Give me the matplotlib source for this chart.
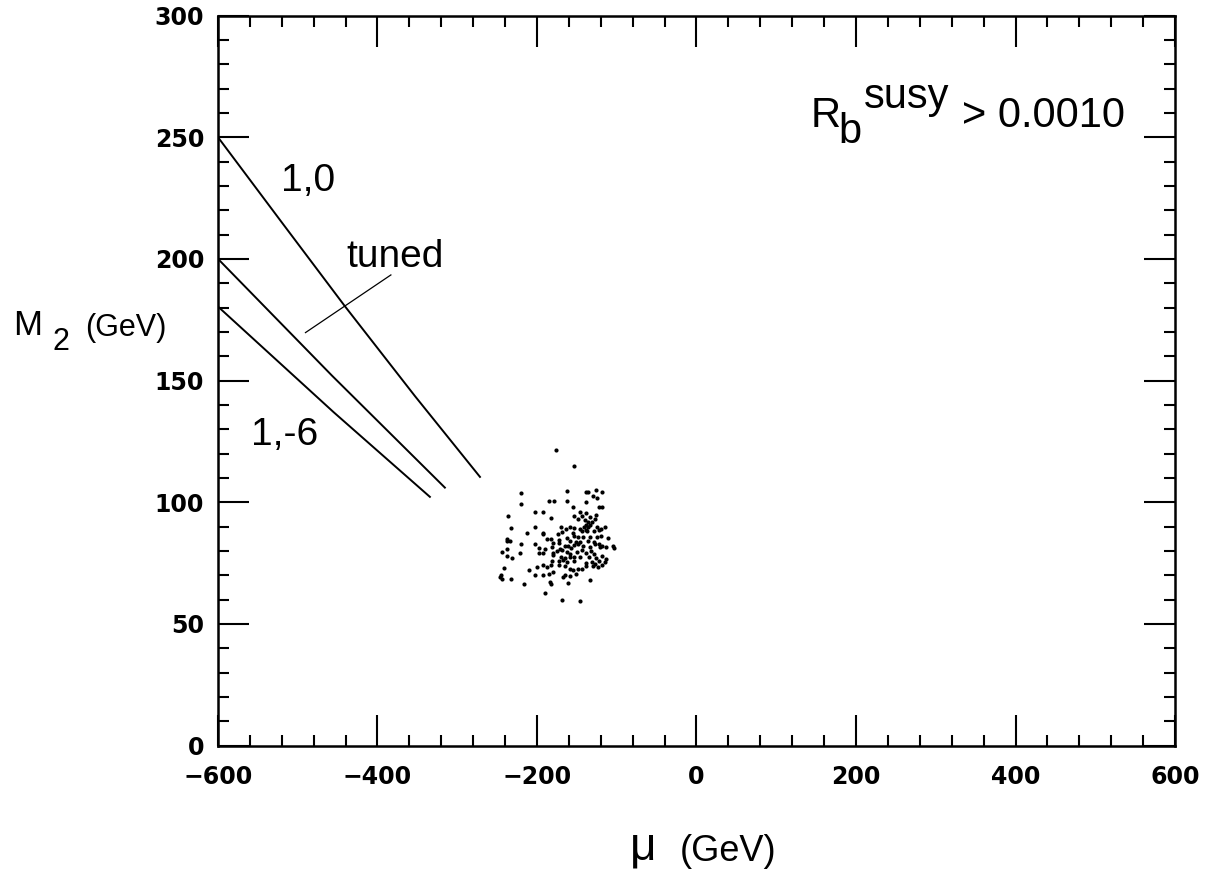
import matplotlib
matplotlib.use('Agg')
from matplotlib import pyplot
import matplotlib.ticker as ticker

# contour lines (mu, M2) in GeV
mu_10 = [-600, -520, -441, -353, -271.5]
m2_10 = [250, 215.0, 180.6, 143.6, 110.4]
mu_tuned = [-600, -457, -315.5]
m2_tuned = [200, 152.0, 106.0]
mu_16 = [-600, -455, -334.3]
m2_16 = [180.4, 137.0, 102.2]
# pointer from "tuned" label
mu_ptr = [-490.3, -383.2]
m2_ptr = [169.7, 193.4]

# scan points with Rb^susy > 0.0010
mu_pts = [-176, -154, -220, -163, -138, -136, -126, -118, -130, -125,
          -220, -185, -179, -163, -139, -155, -122, -119, -203, -193,
          -146, -138, -143, -133, -126, -183, -236, -153, -127, -148,
          -140, -136, -131, -139, -133, -136, -141, -232, -203, -170,
          -164, -158, -153, -146, -138, -125, -115, -122, -120, -212,
          -192, -192, -174, -169, -155, -143, -137, -129, -238, -237,
          -234, -187, -182, -172, -163, -154, -149, -142, -133, -125,
          -120, -220, -202, -180, -173, -159, -151, -146, -136, -129,
          -122, -118, -111, -244, -237, -198, -190, -181, -171, -165,
          -161, -157, -154, -149, -142, -134, -127, -121, -114, -105,
          -104, -221, -198, -192, -180, -175, -169, -163, -159, -150,
          -144, -139, -132, -128, -237, -231, -180, -170, -165, -159,
          -153, -146, -135, -126, -118, -113, -181, -173, -167, -162,
          -154, -139, -131, -122, -119, -127, -115, -241, -210, -200,
          -193, -187, -182, -172, -165, -159, -155, -149, -144, -138,
          -130, -123, -245, -247, -244, -232, -203, -192, -185, -180,
          -168, -165, -159, -151, -134, -184, -183, -161, -216, -190,
          -169, -146]
m2_pts = [121.4, 114.8, 103.8, 104.8, 104.0, 104.3, 105.1, 104.1, 102.6, 101.9,
          99.2, 100.4, 100.4, 100.6, 100.0, 97.9, 97.9, 97.9, 95.8, 96.0,
          96.0, 95.6, 94.5, 94.0, 94.8, 93.6, 94.5, 94.2, 92.9, 92.9,
          92.6, 91.8, 91.9, 90.8, 90.8, 89.9, 89.9, 89.3, 89.9, 89.7,
          89.0, 89.9, 89.6, 88.8, 88.5, 89.9, 89.7, 88.5, 88.9, 87.4,
          87.5, 86.8, 87.1, 87.8, 87.5, 88.1, 88.1, 88.1, 84.9, 84.1,
          84.0, 84.9, 84.9, 84.6, 85.1, 86.0, 85.6, 85.9, 85.7, 85.5,
          86.0, 83.0, 82.7, 83.3, 83.3, 84.0, 83.8, 83.5, 84.1, 83.5,
          82.7, 82.2, 85.2, 79.6, 80.7, 81.2, 80.9, 81.4, 80.9, 82.2,
          81.9, 81.2, 82.4, 82.9, 81.8, 81.6, 82.7, 81.6, 81.6, 81.8,
          81.2, 79.0, 79.0, 79.0, 79.2, 80.0, 80.3, 79.6, 78.9, 79.6,
          80.3, 79.2, 80.0, 78.9, 77.8, 77.0, 78.1, 77.5, 77.0, 77.6,
          77.5, 77.5, 77.5, 77.2, 77.8, 76.8, 75.9, 75.7, 76.1, 75.3,
          75.9, 75.2, 75.3, 75.9, 74.4, 74.8, 75.3, 72.8, 72.3, 73.3,
          74.1, 73.4, 74.1, 74.4, 73.8, 72.7, 72.0, 72.6, 72.7, 73.7,
          73.9, 73.5, 70.2, 69.3, 68.5, 68.5, 70.2, 70.2, 70.6, 71.3,
          69.3, 70.1, 69.7, 70.4, 67.9, 67.2, 66.4, 66.9, 66.4, 62.7,
          59.8, 59.4]

fig = pyplot.figure(figsize=(12.07, 8.73), dpi=100)
ax = fig.add_axes([0.1806, 0.1460, 0.7929, 0.8362])

ax.plot(mu_10, m2_10, color='k', linewidth=1.4)
ax.plot(mu_tuned, m2_tuned, color='k', linewidth=1.4)
ax.plot(mu_16, m2_16, color='k', linewidth=1.4)
ax.plot(mu_ptr, m2_ptr, color='k', linewidth=0.9)
ax.scatter(mu_pts, m2_pts, s=9, c='k', linewidths=0)

ax.set_xlim(-600, 600)
ax.set_ylim(0, 300)

ax.xaxis.set_major_locator(ticker.MultipleLocator(200))
ax.xaxis.set_minor_locator(ticker.MultipleLocator(40))
ax.yaxis.set_major_locator(ticker.MultipleLocator(50))
ax.yaxis.set_minor_locator(ticker.MultipleLocator(10))

ax.tick_params(which='both', direction='in', top=True, right=True, width=1.5)
ax.tick_params(which='major', length=22)
ax.tick_params(which='minor', length=8)
ax.tick_params(axis='x', pad=14)
ax.tick_params(axis='y', pad=10)
for lab in ax.get_xticklabels() + ax.get_yticklabels():
    lab.set_fontfamily('DejaVu Sans')
    lab.set_fontweight('bold')
    lab.set_fontsize(17)
for sp in ax.spines.values():
    sp.set_linewidth(1.8)

helv = 'Liberation Sans'
# line labels
ax.text(-521, 228.0, '1,0', fontsize=28, family=helv, ha='left', va='baseline')
ax.text(-439, 196.8, 'tuned', fontsize=28, family=helv, ha='left', va='baseline')
ax.text(-558, 123.5, '1,-6', fontsize=28, family=helv, ha='left', va='baseline')

# Rb^susy > 0.0010
ax.text(143, 254.0, 'R', fontsize=30, family=helv, ha='left', va='baseline')
ax.text(178, 247.6, 'b', fontsize=30, family=helv, ha='left', va='baseline')
ax.text(210, 262.0, 'susy', fontsize=30, family=helv, ha='left', va='baseline')
ax.text(333, 254.0, '> 0.0010', fontsize=30, family=helv, ha='left', va='baseline')

# axis titles
fig.text(0.0108, 0.6163, 'M', fontsize=25, family=helv, ha='left', va='baseline')
fig.text(0.0439, 0.5990, '2', fontsize=22, family=helv, ha='left', va='baseline')
fig.text(0.0704, 0.6151, '(GeV)', fontsize=22, family=helv, ha='left', va='baseline')
fig.text(0.5222, 0.0149, '\u03bc', fontsize=33, family=helv, ha='left', va='baseline')
fig.text(0.5634, 0.0137, '(GeV)', fontsize=26, family=helv, ha='left', va='baseline')

fig.savefig('out.png')
